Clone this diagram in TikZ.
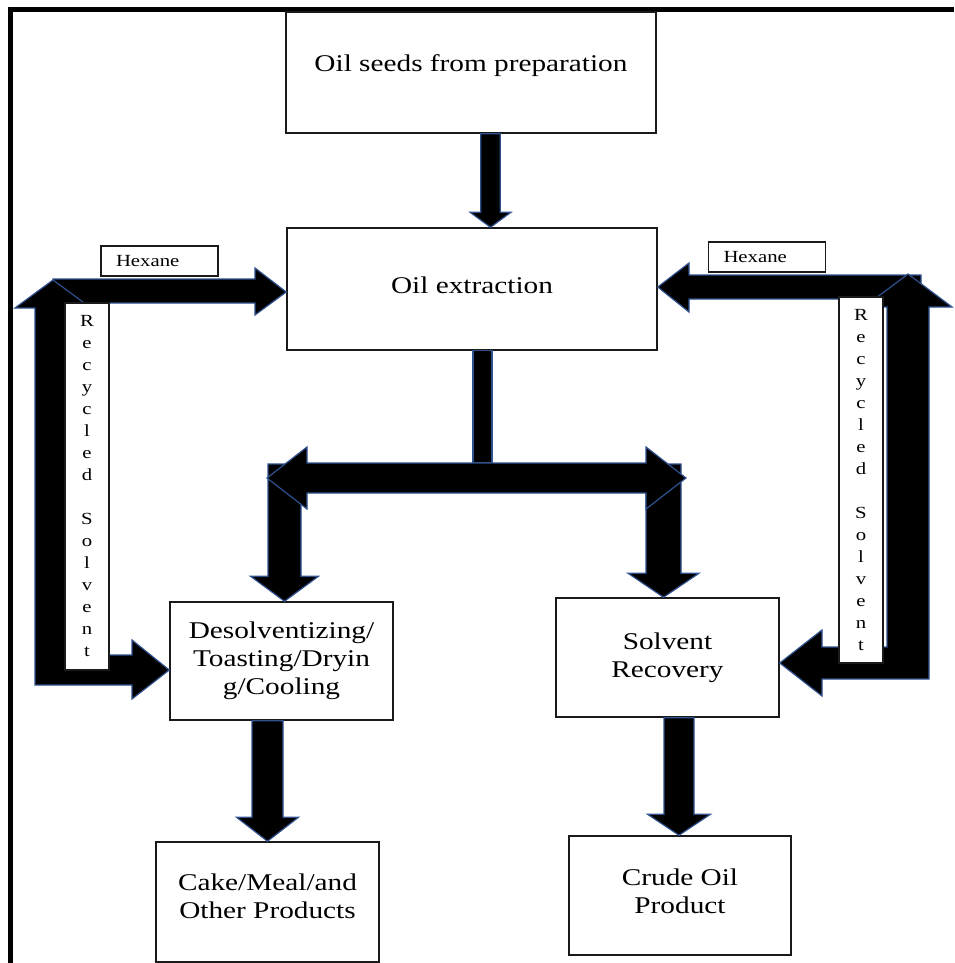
\documentclass[tikz,border=0pt]{standalone}
\usepackage{fontspec}
\setmainfont[FakeStretch=1.22]{Liberation Serif}
\usepackage{tikz}
\usetikzlibrary{calc}
\definecolor{pfink}{HTML}{000000}
\definecolor{pfedge}{HTML}{2F528F}
\definecolor{pfline}{HTML}{1A1A1A}
\tikzset{
  procbox/.style={rectangle,draw=pfline,line width=1.5pt,fill=white,
                  align=center,inner sep=2pt,font=\fontsize{24}{28}\selectfont},
  tagbox/.style={rectangle,draw=pfline,line width=1.3pt,fill=white,
                 text width=87pt,inner xsep=15pt,inner ysep=0pt,minimum height=30pt,
                 align=left,font=\fontsize{17}{20}\selectfont},
  sidebox/.style={rectangle,draw=pfline,line width=1.3pt,fill=white,
                  minimum width=44pt,minimum height=367pt,inner sep=0pt,
                  align=center,font=\fontsize{17}{22}\selectfont},
  blk/.style={fill=pfink,draw=pfedge,line width=1.2pt,line join=miter},
  frame/.style={draw=black,line width=4.5pt,line join=miter},
}
% block arrow pointing down: x, from, to, shaft half, head half, head length
\newcommand{\downblock}[6]{%
  \draw[blk] let \p1=(#2), \p2=(#3) in
    ({(#1-#4)*1pt},\y1) -- ({(#1+#4)*1pt},\y1) -- ({(#1+#4)*1pt},\y2+#6pt)
    -- ({(#1+#5)*1pt},\y2+#6pt) -- ({#1*1pt},\y2) -- ({(#1-#5)*1pt},\y2+#6pt)
    -- ({(#1-#4)*1pt},\y2+#6pt) -- cycle;}
\begin{document}
\begin{tikzpicture}[x=1pt,y=-1pt]
\useasboundingbox (0,0) rectangle (954,963);
\draw[frame] (10.5,963) -- (10.5,9.5) -- (954,9.5);

% process steps
\node[procbox,minimum width=370pt,minimum height=121pt,text depth=19pt] (seeds) at (471,72.5) {Oil seeds from preparation};
\node[procbox,minimum width=370pt,minimum height=122pt,text depth=8pt] (extract) at (472,289) {Oil extraction};
\node[procbox,minimum width=223pt,minimum height=118pt] (desolv) at (281.5,661) {Desolventizing/\\Toasting/Dryin\\g/Cooling};
\node[procbox,minimum width=223pt,minimum height=119pt] (solrec) at (667.5,657.5) {Solvent\\Recovery};
\node[procbox,minimum width=223pt,minimum height=120pt,text depth=12pt] (cake) at (267.5,902) {Cake/Meal/and\\Other Products};
\node[procbox,minimum width=222pt,minimum height=119pt,text depth=8pt] (crude) at (680,895.5) {Crude Oil\\Product};

% main flow
\downblock{490.5}{seeds.south}{extract.north}{9.75}{20.5}{15}
\coordinate (fork) at (482.5,478);
\draw[blk] let \p1=(extract.south) in (473pt,\y1) rectangle (492,463);
\downblock{284.5}{284.5,464}{desolv.north}{16.5}{34}{25}
\downblock{663.5}{663.5,464}{solrec.north}{17.5}{35.5}{24}
\draw[blk] (267,478) -- (307,447) -- (307,463) -- (646,463) -- (646,447) -- (686,478)
  -- (646,509) -- (646,493) -- (307,493) -- (307,509) -- cycle;
\downblock{267.5}{desolv.south}{cake.north}{15.5}{31}{24}
\downblock{679}{solrec.south}{crude.north}{15}{31.5}{21}

% solvent loop, left
\draw[blk] (53,279) -- (255,279) -- (255,268) -- (extract.west |- 0,292) -- (255,315)
  -- (255,303) -- (53,303) -- cycle;
\draw[blk] (35,685) -- (132,685) -- (132,699) -- (desolv.west |- 0,670) -- (132,640)
  -- (132,655) -- (71,655) -- (71,308) -- (91,308) -- (53,280) -- (15,308) -- (35,308) -- cycle;

% solvent loop, right
\draw[blk] (921,275) -- (689,275) -- (689,263) -- (extract.east |- 0,287) -- (689,312)
  -- (689,299) -- (921,299) -- cycle;
\draw[blk] (929,679) -- (822,679) -- (822,696) -- (solrec.east |- 0,663) -- (822,630)
  -- (822,647) -- (887,647) -- (887,307) -- (864,307) -- (908,274) -- (952,307) -- (929,307) -- cycle;

% labels on the loops
\node[sidebox] (recL) at (87,486.5) {R\\e\\c\\y\\c\\l\\e\\d\\\mbox{}\\S\\o\\l\\v\\e\\n\\t};
\node[sidebox,minimum height=366pt] (recR) at (861,480) {R\\e\\c\\y\\c\\l\\e\\d\\\mbox{}\\S\\o\\l\\v\\e\\n\\t};
\node[tagbox] (hexL) at (159.5,261) {Hexane};
\node[tagbox] (hexR) at (767,257) {Hexane};
\end{tikzpicture}
\end{document}
